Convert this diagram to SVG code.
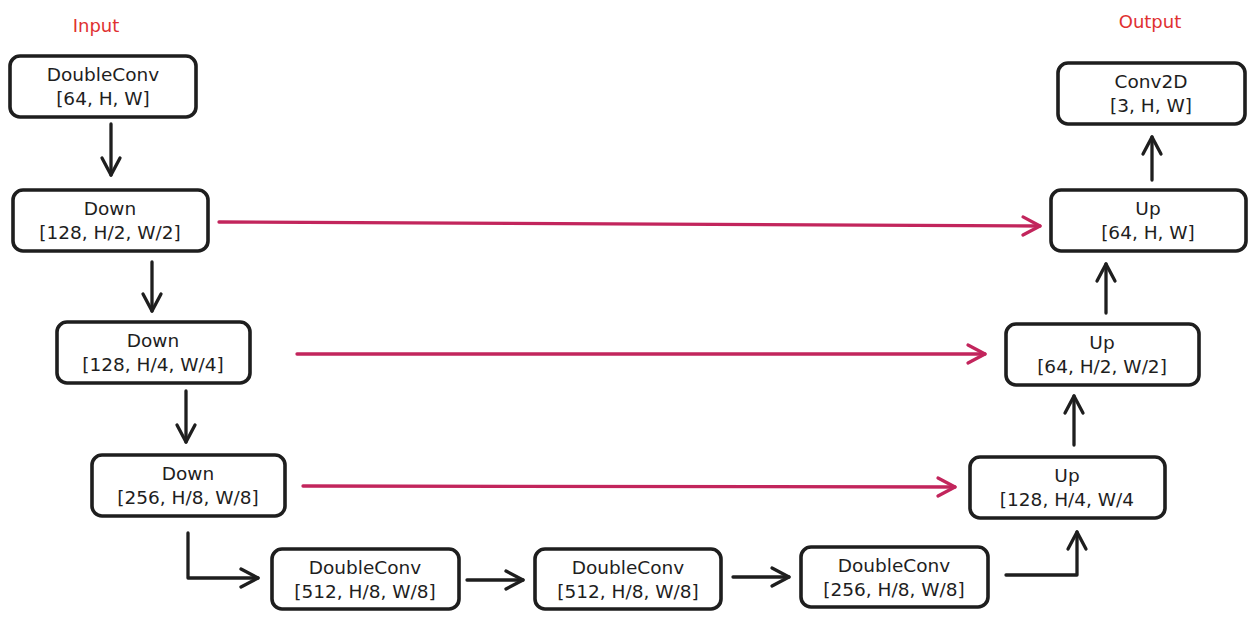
<svg xmlns="http://www.w3.org/2000/svg" width="1255" height="620" viewBox="0 0 1255 620">
<style>
.box{fill:#fff;stroke:#1e1e1e;stroke-width:3.6}
.t{font-family:"DejaVu Sans","Liberation Sans",sans-serif;font-size:18.5px;fill:#1e1e1e;text-anchor:middle}
.lbl{font-family:"DejaVu Sans","Liberation Sans",sans-serif;font-size:18px;fill:#e03131;text-anchor:middle}
.k{fill:none;stroke:#1e1e1e;stroke-width:3.3;stroke-linecap:round;stroke-linejoin:round}
.p{fill:none;stroke:#c2255c;stroke-width:3.3;stroke-linecap:round;stroke-linejoin:round}
</style>
<defs>
<marker id="ak" viewBox="0 0 24 24" refX="21" refY="12" markerWidth="24" markerHeight="24" markerUnits="userSpaceOnUse" orient="auto">
<path d="M4,3 L21,12 L4,21" fill="none" stroke="#1e1e1e" stroke-width="3.3" stroke-linecap="round" stroke-linejoin="round"/>
</marker>
<marker id="ap" viewBox="0 0 24 24" refX="21" refY="12" markerWidth="24" markerHeight="24" markerUnits="userSpaceOnUse" orient="auto">
<path d="M4,3 L21,12 L4,21" fill="none" stroke="#c2255c" stroke-width="3.3" stroke-linecap="round" stroke-linejoin="round"/>
</marker>
</defs>
<rect width="1255" height="620" fill="#fff"/>
<text class="lbl" x="96" y="32">Input</text>
<text class="lbl" x="1150" y="28">Output</text>
<g id="connectors">
<line class="k" x1="111" y1="124" x2="111" y2="175" marker-end="url(#ak)"/>
<line class="k" x1="152" y1="262" x2="152" y2="311" marker-end="url(#ak)"/>
<line class="k" x1="186" y1="391" x2="186" y2="442" marker-end="url(#ak)"/>
<polyline class="k" points="188,533 188,578 258,578" marker-end="url(#ak)"/>
<line class="k" x1="467" y1="580" x2="523" y2="580" marker-end="url(#ak)"/>
<line class="k" x1="733" y1="577" x2="789" y2="577" marker-end="url(#ak)"/>
<polyline class="k" points="1006,575 1077,575 1077,532" marker-end="url(#ak)"/>
<line class="k" x1="1074" y1="445" x2="1074" y2="396" marker-end="url(#ak)"/>
<line class="k" x1="1106" y1="313" x2="1106" y2="264" marker-end="url(#ak)"/>
<line class="k" x1="1152" y1="180" x2="1152" y2="137" marker-end="url(#ak)"/>
<line class="p" x1="219" y1="222" x2="1040" y2="226" marker-end="url(#ap)"/>
<line class="p" x1="297" y1="354" x2="985" y2="354" marker-end="url(#ap)"/>
<line class="p" x1="303" y1="486" x2="955" y2="487" marker-end="url(#ap)"/>
</g>
<g id="n1"><rect class="box" x="10" y="56" width="186" height="61" rx="10"/><text class="t" x="103" y="81">DoubleConv</text><text class="t" x="103" y="105">[64, H, W]</text></g>
<g id="n2"><rect class="box" x="13" y="190" width="195" height="61" rx="10"/><text class="t" x="110" y="215">Down</text><text class="t" x="110" y="239">[128, H/2, W/2]</text></g>
<g id="n3"><rect class="box" x="57" y="322" width="193" height="61" rx="10"/><text class="t" x="153" y="347">Down</text><text class="t" x="153" y="371">[128, H/4, W/4]</text></g>
<g id="n4"><rect class="box" x="92" y="455" width="193" height="61" rx="10"/><text class="t" x="188" y="480">Down</text><text class="t" x="188" y="504">[256, H/8, W/8]</text></g>
<g id="n5"><rect class="box" x="272" y="549" width="187" height="60" rx="10"/><text class="t" x="365" y="574">DoubleConv</text><text class="t" x="365" y="598">[512, H/8, W/8]</text></g>
<g id="n6"><rect class="box" x="535" y="549" width="186" height="60" rx="10"/><text class="t" x="628" y="574">DoubleConv</text><text class="t" x="628" y="598">[512, H/8, W/8]</text></g>
<g id="n7"><rect class="box" x="801" y="547" width="187" height="60" rx="10"/><text class="t" x="894" y="572">DoubleConv</text><text class="t" x="894" y="596">[256, H/8, W/8]</text></g>
<g id="n8"><rect class="box" x="970" y="457" width="195" height="61" rx="10"/><text class="t" x="1067" y="482">Up</text><text class="t" x="1067" y="506">[128, H/4, W/4</text></g>
<g id="n9"><rect class="box" x="1006" y="324" width="193" height="61" rx="10"/><text class="t" x="1102" y="349">Up</text><text class="t" x="1102" y="373">[64, H/2, W/2]</text></g>
<g id="n10"><rect class="box" x="1051" y="190" width="195" height="61" rx="10"/><text class="t" x="1148" y="215">Up</text><text class="t" x="1148" y="239">[64, H, W]</text></g>
<g id="n11"><rect class="box" x="1058" y="63" width="187" height="61" rx="10"/><text class="t" x="1151" y="88">Conv2D</text><text class="t" x="1151" y="112">[3, H, W]</text></g>
</svg>
